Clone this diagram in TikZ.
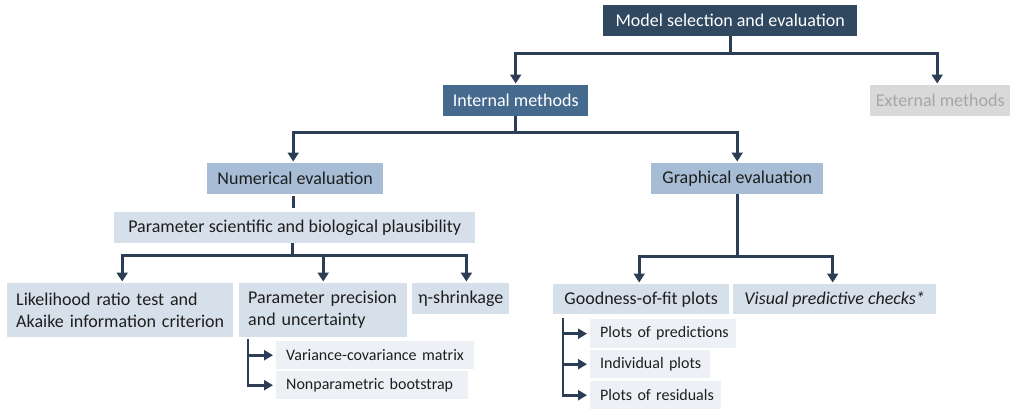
\documentclass[tikz,border=0pt]{standalone}
\usepackage{fontspec}
\setmainfont{Carlito}
\usetikzlibrary{arrows.meta}

\definecolor{navy}{HTML}{304860}
\definecolor{steel}{HTML}{456A8D}
\definecolor{midblue}{HTML}{A7BCD5}
\definecolor{paleblue}{HTML}{D6E0EB}
\definecolor{leafblue}{HTML}{EDF1F6}
\definecolor{greybox}{HTML}{D9D9D9}
\definecolor{greytext}{HTML}{A6A6A6}
\definecolor{ink}{HTML}{1E1E1E}
\definecolor{wire}{HTML}{2B3E55}

\begin{document}
\begin{tikzpicture}[x=1pt, y=-1pt,
  box/.style={rectangle, inner sep=0pt, anchor=north west, text=ink,
              font=\fontsize{18}{22}\selectfont},
  lbox/.style={box, align=left, inner xsep=9pt},
  leaf/.style={box, fill=leafblue, font=\fontsize{16}{19}\selectfont,
               minimum height=28pt, align=left, inner xsep=10pt},
  conn/.style={draw=wire, line width=2.8pt, line join=miter,
               -{Triangle[width=11pt,length=9pt]}, shorten >=1.5pt},
  sideconn/.style={conn, -{Triangle[width=10pt,length=9pt]}, shorten >=3pt},
]
\useasboundingbox (0,0) rectangle (1012,410);

% top levels
\node[box, fill=navy, text=white, minimum width=254pt, minimum height=31pt]
  (model) at (603,5) {Model selection and evaluation};
\node[box, fill=steel, text=white, minimum width=145pt, minimum height=31pt]
  (internal) at (443,85) {Internal methods};
\node[box, fill=greybox, text=greytext, minimum width=140pt, minimum height=31pt]
  (external) at (870,85) {External methods};

% evaluation types
\node[box, fill=midblue, minimum width=176pt, minimum height=31pt]
  (numerical) at (207,163) {Numerical evaluation};
\node[box, fill=midblue, minimum width=172pt, minimum height=31pt]
  (graphical) at (651,163) {Graphical evaluation};
\node[box, fill=paleblue, minimum width=361pt, minimum height=31pt]
  (plaus) at (114,212) {Parameter scientific and biological plausibility};

% numerical branch
\node[lbox, fill=paleblue, text width=208pt, minimum height=54pt]
  (likelihood) at (7,283) {\mbox{Likelihood ratio test and}\\\mbox{Akaike information criterion}};
\node[lbox, fill=paleblue, text width=150pt, minimum height=54pt]
  (precision) at (239,283) {\mbox{Parameter precision}\\\mbox{and uncertainty}};
\node[box, fill=paleblue, minimum width=97pt, minimum height=31pt]
  (eta) at (412,283) {η-shrinkage};
\node[leaf, text width=178pt] (variance) at (276,341) {\mbox{Variance-covariance matrix}};
\node[leaf, text width=172pt] (nonparam) at (276,371) {\mbox{Nonparametric bootstrap}};

% graphical branch
\node[box, fill=paleblue, minimum width=176pt, minimum height=30pt]
  (goodness) at (553,284) {Goodness-of-fit plots};
\node[box, fill=paleblue, minimum width=203pt, minimum height=30pt]
  (vpc) at (733,284) {\itshape Visual predictive checks*};
\node[leaf, text width=126pt, minimum height=29pt] (predictions) at (590,319) {\mbox{Plots of predictions}};
\node[leaf, text width=100pt] (individual) at (590,350) {\mbox{Individual plots}};
\node[leaf, text width=111pt] (residuals) at (590,381) {\mbox{Plots of residuals}};

% connectors
\draw[conn] (model.south) -- ++(0,17) -| (internal.north);
\draw[conn] (model.south) -- ++(0,17) -| ([xshift=-3pt]external.north);

\draw[conn] (internal.south) -- ++(0,16) -| ([xshift=-2pt]numerical.north);
\draw[conn] (internal.south) -- ++(0,16) -| (graphical.north);

\draw[wire, line width=2.8pt, shorten <=2pt, shorten >=4pt]
  ([xshift=-2pt]numerical.south) -- ([xshift=-2pt]numerical.south |- plaus.north);

\draw[conn] ([xshift=-2pt]plaus.south) -- ++(0,12) -| ([xshift=2pt]likelihood.north);
\draw[conn] ([xshift=-2pt]plaus.south) -- ++(0,12) -| (precision.north);
\draw[conn] ([xshift=-2pt]plaus.south) -- ++(0,12) -| ([xshift=-43pt]eta.north east);

\draw[conn] (graphical.south) -- ++(0,62) -| ([xshift=-2pt]goodness.north);
\draw[conn] (graphical.south) -- ++(0,62) -| ([xshift=-2pt]vpc.north);

% side brackets
\coordinate (pb) at ([xshift=9pt, yshift=-2pt]precision.south west);
\draw[sideconn] (pb) |- (nonparam.west);
\draw[sideconn] (pb |- variance.west) -- (variance.west);

\coordinate (gb) at ([xshift=10pt, yshift=-4pt]goodness.south west);
\draw[sideconn] (gb) |- (residuals.west);
\draw[sideconn] (gb |- predictions.west) -- (predictions.west);
\draw[sideconn] (gb |- individual.west) -- (individual.west);
\end{tikzpicture}
\end{document}
